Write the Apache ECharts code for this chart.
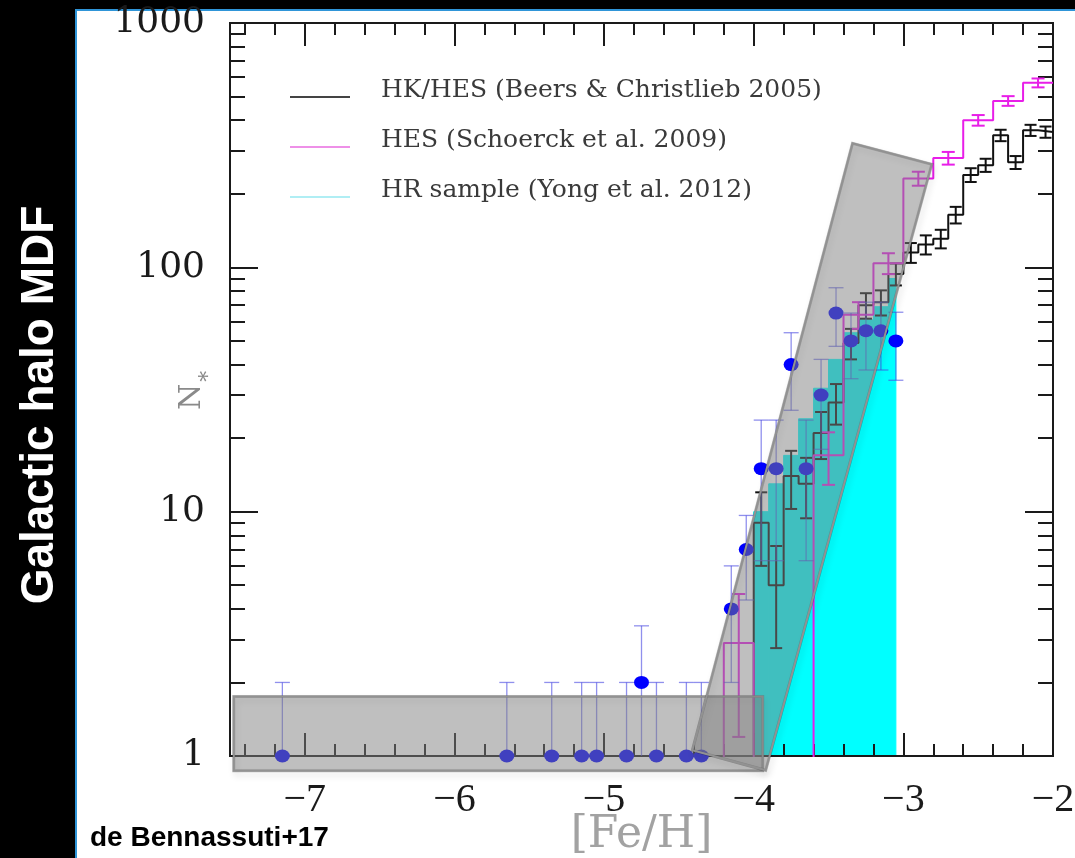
<!DOCTYPE html>
<html lang="en">
<head>
<meta charset="UTF-8">
<title>Galactic halo MDF</title>
<style>
    html, body { margin: 0; padding: 0; background: #000; }
    .sheet {
        position: absolute; left: 75px; top: 9px; width: 1000px; height: 849px;
        background: #fff; box-sizing: border-box;
        border-left: 2px solid #2f95d8; border-top: 2px solid #2f95d8;
    }
    #chart { position: absolute; left: 0; top: 0; width: 1075px; height: 858px; }
</style>
</head>
<body>
<div class="sheet"></div>
<div id="chart"></div>
<script src="https://cdn.jsdelivr.net/npm/echarts@6/dist/echarts.min.js"></script>
<script>
    // HK/HES (Beers & Christlieb 2005), 0.1 dex bins, left edges
    var hkFeh = [-4.1, -4.0, -3.9, -3.8, -3.7, -3.6, -3.5, -3.4, -3.3, -3.2, -3.1,
                 -3.0, -2.9, -2.8, -2.7, -2.6, -2.5, -2.4, -2.3, -2.2, -2.1];
    var hkN = [0, 9, 5, 14, 13, 21, 28, 49, 70, 72, 94,
               115, 124, 131, 164, 239, 262, 347, 269, 364, 358];
    var hkWidth = 0.1;

    // HES (Schoerck et al. 2009), 0.2 dex bins, left edges
    var hesFeh = [-4.4, -4.2, -4.0, -3.8, -3.6, -3.4, -3.2, -3.0, -2.8, -2.6, -2.4, -2.2];
    var hesN = [0, 2.9, 0, 0, 17, 64, 104, 231, 280, 400, 480, 569];
    var hesWidth = 0.2;

    // HR sample (Yong et al. 2012)
    var yongLo = [-4.0, -3.9, -3.8, -3.7, -3.6, -3.5, -3.4, -3.3, -3.2, -3.1];
    var yongHi = [-3.9, -3.8, -3.7, -3.6, -3.5, -3.4, -3.3, -3.2, -3.1, -3.05];
    var yongN = [10, 13, 17, 24, 32, 42, 54, 61, 69, 90];

    // model points with their error bars
    var modelFeh = [-7.15, -5.65, -5.35, -5.15, -5.05, -4.85, -4.75, -4.65, -4.45, -4.35,
                    -4.15, -4.05, -3.95, -3.85, -3.75, -3.65, -3.55, -3.45, -3.35, -3.25, -3.15, -3.05];
    var modelN = [1, 1, 1, 1, 1, 1, 2, 1, 1, 1,
                  4, 7, 15, 15, 40, 15, 30, 65, 50, 55, 55, 50];
    var modelErr = [1, 1, 1, 1, 1, 1, 1.41, 1, 1, 1,
                    2, 2.65, 8.7, 8.7, 14, 8.7, 12, 17.5, 15, 17, 17, 15.5];

    // grey highlight regions
    var boxFeh = [-7.475, -3.94];
    var boxN = [0.87, 1.75];
    var bandFeh = [-4.41, -3.92, -2.81, -3.34];
    var bandN = [1.055, 0.874, 264, 322];

    // ticks
    var xMajor = [-7, -6, -5, -4, -3, -2];
    var xMinor = [-7.4, -7.2, -6.8, -6.6, -6.4, -6.2, -5.8, -5.6, -5.4, -5.2, -4.8, -4.6,
                  -4.4, -4.2, -3.8, -3.6, -3.4, -3.2, -2.8, -2.6, -2.4, -2.2];
    var yMajor = [1, 10, 100, 1000];
    var yMinor = [2, 3, 4, 5, 6, 7, 8, 9, 20, 30, 40, 50, 60, 70, 80, 90,
                  200, 300, 400, 500, 600, 700, 800, 900];

    var FLOOR = 0.1; // empty bins sit below the log axis
    var INK = '#1a1a1a';
    // legend swatch: a thin bar sitting at the bottom of its box, so it lands below the text middle
    var LEGEND_ICON = 'path://M0,0 L1,0 L0,0 Z M0,13 L60,13 L60,15 L0,15 Z';

    function stepData(feh, n, width) {
        var d = feh.map(function (x, i) { return [x, n[i] > 0 ? n[i] : FLOOR]; });
        var last = feh.length - 1;
        d.push([+(feh[last] + width).toFixed(2), d[last][1]]);
        return d;
    }

    function poissonBars(feh, n, width) {
        var out = [];
        feh.forEach(function (x, i) {
            if (n[i] > 0) {
                var s = Math.sqrt(n[i]);
                out.push([+(x + width / 2).toFixed(3), Math.max(n[i] - s, FLOOR), n[i] + s]);
            }
        });
        return out;
    }

    function errorSeries(data, color, lw, cap, z) {
        return {
            type: 'custom', z: z, silent: true,
            encode: { x: 0, y: [1, 2] },
            data: data,
            renderItem: function (params, api) {
                var cs = params.coordSys;
                var bottom = cs.y + cs.height;
                var x = api.value(0), lo = api.value(1), hi = api.value(2);
                var top = api.coord([x, hi]);
                var low = lo >= 1 ? api.coord([x, lo])[1] : bottom;
                function st() { return { stroke: color, lineWidth: lw, fill: null }; }
                var kids = [
                    { type: 'line', shape: { x1: top[0], y1: top[1], x2: top[0], y2: low }, style: st() },
                    { type: 'line', shape: { x1: top[0] - cap, y1: top[1], x2: top[0] + cap, y2: top[1] }, style: st() }
                ];
                if (lo >= 1) {
                    kids.push({ type: 'line', shape: { x1: top[0] - cap, y1: low, x2: top[0] + cap, y2: low }, style: st() });
                }
                return { type: 'group', children: kids };
            }
        };
    }

    // translucent grey shape; the shadow goes on the outline only so it does not darken the fill
    function shadeSeries(points) {
        return {
            type: 'custom', z: 8, silent: true,
            encode: { x: [0, 2, 4, 6], y: [1, 3, 5, 7] },
            data: [points],
            renderItem: function (params, api) {
                var pts = [];
                for (var k = 0; k < 4; k++) {
                    pts.push(api.coord([api.value(2 * k), api.value(2 * k + 1)]));
                }
                return {
                    type: 'group',
                    children: [
                        {
                            type: 'polygon', shape: { points: pts },
                            style: { fill: null, stroke: 'rgba(0,0,0,0.25)', lineWidth: 3,
                                     shadowBlur: 6, shadowColor: 'rgba(0,0,0,0.45)',
                                     shadowOffsetX: 2, shadowOffsetY: 4 }
                        },
                        {
                            type: 'polygon', shape: { points: pts },
                            style: { fill: 'rgba(128,128,128,0.5)', stroke: '#929292', lineWidth: 2 }
                        }
                    ]
                };
            }
        };
    }

    function xAxisOf(position, ticks, len, withLabels) {
        var ax = {
            type: 'value', min: -7.5, max: -2, position: position, z: 2,
            axisLine: { show: true, onZero: false, lineStyle: { color: INK, width: 2 } },
            axisTick: { show: true, inside: true, length: len, customValues: ticks,
                        lineStyle: { color: INK, width: 2 } },
            axisLabel: { show: false },
            splitLine: { show: false }
        };
        if (withLabels) {
            ax.axisLabel = {
                show: true, customValues: ticks, margin: 24, hideOverlap: false,
                fontFamily: 'Liberation Serif', fontSize: 40, color: INK,
                formatter: function (v) { return v < 0 ? '\u2212' + (-v) : String(v); }
            };
            ax.name = '[Fe/H]';
            ax.nameLocation = 'middle';
            ax.nameGap = 58;
            ax.nameMoveOverlap = false;
            ax.nameTextStyle = { fontFamily: 'DejaVu Serif', fontSize: 44, color: '#a2a2a2' };
        }
        return ax;
    }

    function yAxisOf(position, ticks, len, withLabels) {
        var ax = {
            type: 'log', logBase: 10, min: 1, max: 1000, position: position, z: 2,
            axisLine: { show: true, onZero: false, lineStyle: { color: INK, width: 2 } },
            axisTick: { show: true, inside: true, length: len, customValues: ticks,
                        lineStyle: { color: INK, width: 2 } },
            axisLabel: { show: false },
            splitLine: { show: false },
            minorTick: { show: false }
        };
        if (withLabels) {
            ax.axisLabel = {
                show: true, customValues: ticks, margin: 25, hideOverlap: false,
                fontFamily: 'DejaVu Serif', fontSize: 36, color: INK,
                formatter: function (v) { return String(v); }
            };
            ax.name = '{a|N}{b|\u2217}';
            ax.nameLocation = 'middle';
            ax.nameRotate = 90;
            ax.nameGap = 15;
            ax.nameMoveOverlap = false;
            ax.nameTextStyle = {
                rich: {
                    a: { fontFamily: 'DejaVu Serif', fontSize: 30, color: '#8a8a8a', padding: [0, 0, 8, 0], verticalAlign: 'bottom' },
                    b: { fontFamily: 'DejaVu Serif', fontSize: 22, color: '#8a8a8a', verticalAlign: 'bottom' }
                }
            };
        }
        return ax;
    }

    var chart = echarts.init(document.getElementById('chart'), null, { renderer: 'canvas' });

    var option = {
        animation: false,
        backgroundColor: 'transparent',
        grid: { left: 230, right: 22, top: 23, bottom: 102, outerBoundsMode: 'none', containLabel: false },
        xAxis: [
            xAxisOf('bottom', xMajor, 23, true),
            xAxisOf('bottom', xMinor, 12, false),
            xAxisOf('top', xMajor, 23, false),
            xAxisOf('top', xMinor, 12, false)
        ],
        yAxis: [
            yAxisOf('left', yMajor, 28, true),
            yAxisOf('left', yMinor, 15, false),
            yAxisOf('right', yMajor, 28, false),
            yAxisOf('right', yMinor, 15, false)
        ],
        legend: {
            orient: 'vertical', left: 290, top: 78, padding: 0, itemGap: 25,
            itemWidth: 60, itemHeight: 15, icon: LEGEND_ICON, selectedMode: false,
            textStyle: { fontFamily: 'DejaVu Serif', fontSize: 25, color: '#3a3a3a',
                         lineHeight: 24, padding: [0, 0, 0, 26] },
            data: [
                { name: 'HK/HES (Beers & Christlieb 2005)', itemStyle: { color: '#444', borderWidth: 0 } },
                { name: 'HES (Schoerck et al. 2009)', itemStyle: { color: '#ee90e8', borderWidth: 0 } },
                { name: 'HR sample (Yong et al. 2012)', itemStyle: { color: '#b0eef4', borderWidth: 0 } }
            ]
        },
        graphic: [
            {
                type: 'text', x: 40, y: 405, rotation: Math.PI / 2,
                style: { text: 'Galactic halo MDF', fill: '#fff', align: 'center', verticalAlign: 'middle',
                         font: 'bold 46px "Liberation Sans", Arial, sans-serif' }
            },
            {
                type: 'text', x: 90, y: 838,
                style: { text: 'de Bennassuti+17', fill: '#000', verticalAlign: 'middle',
                         font: 'bold 28px "Liberation Sans", Arial, sans-serif' }
            }
        ],
        series: [
            {
                type: 'custom', name: 'HR sample (Yong et al. 2012)', z: 1, silent: true,
                encode: { x: [0, 1], y: 2 },
                data: yongLo.map(function (lo, i) { return [lo, yongHi[i], yongN[i]]; }),
                renderItem: function (params, api) {
                    var p0 = api.coord([api.value(0), api.value(2)]);
                    var p1 = api.coord([api.value(1), 1]);
                    return {
                        type: 'rect',
                        shape: { x: p0[0], y: p0[1], width: p1[0] - p0[0], height: p1[1] - p0[1] },
                        style: { fill: '#00ffff', stroke: '#00ffff', lineWidth: 1 }
                    };
                }
            },
            {
                type: 'line', name: 'HK/HES (Beers & Christlieb 2005)', z: 3, step: 'end',
                showSymbol: false, silent: true, clip: true,
                lineStyle: { color: '#111', width: 2 },
                itemStyle: { color: '#111' },
                data: stepData(hkFeh, hkN, hkWidth)
            },
            errorSeries(poissonBars(hkFeh, hkN, hkWidth), '#111', 2, 6, 3),
            {
                type: 'line', name: 'HES (Schoerck et al. 2009)', z: 4, step: 'end',
                showSymbol: false, silent: true, clip: true,
                lineStyle: { color: '#e81ee8', width: 2 },
                itemStyle: { color: '#e81ee8' },
                data: stepData(hesFeh, hesN, hesWidth)
            },
            errorSeries(poissonBars(hesFeh, hesN, hesWidth), '#e81ee8', 2, 6.5, 4),
            errorSeries(modelFeh.map(function (x, i) {
                return [x, Math.max(modelN[i] - modelErr[i], FLOOR), modelN[i] + modelErr[i]];
            }), 'rgba(70,70,225,0.6)', 1.3, 7.5, 5),
            {
                type: 'scatter', name: 'model', z: 6, silent: true, clip: false,
                symbol: 'circle', symbolSize: [15, 13],
                itemStyle: { color: '#0000ff', opacity: 1 },
                data: modelFeh.map(function (x, i) { return [x, modelN[i]]; })
            },
            shadeSeries([boxFeh[0], boxN[0], boxFeh[1], boxN[0], boxFeh[1], boxN[1], boxFeh[0], boxN[1]]),
            shadeSeries([bandFeh[0], bandN[0], bandFeh[1], bandN[1], bandFeh[2], bandN[2], bandFeh[3], bandN[3]])
        ]
    };

    chart.setOption(option);
</script>
</body>
</html>
